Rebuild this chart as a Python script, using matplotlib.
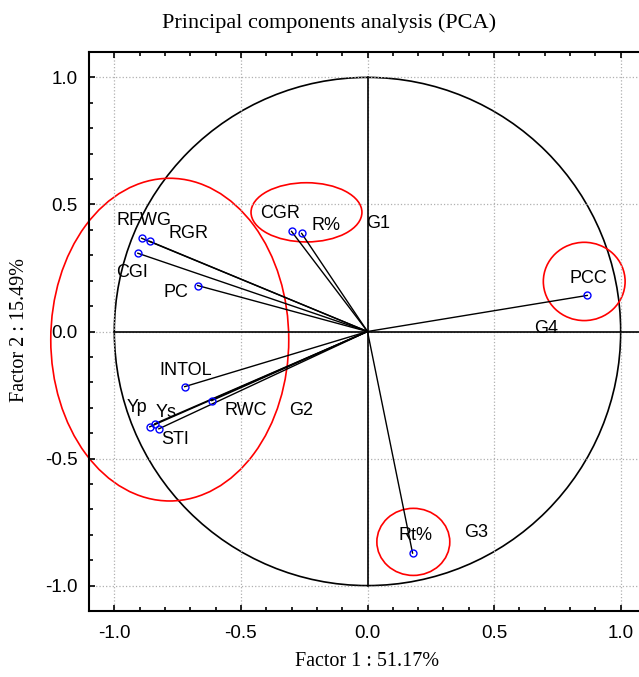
# PCA correlation circle (factor 1 vs factor 2) with grouped variables

import numpy as np
import matplotlib.pyplot as plt
from matplotlib.patches import Ellipse, Circle
from matplotlib.ticker import MultipleLocator

plt.rcParams['font.family'] = ['Liberation Sans', 'DejaVu Sans']

variables = ['RFWG', 'RGR', 'CGI', 'PC', 'INTOL', 'RWC', 'Yp', 'Ys', 'STI',
             'CGR', 'R%', 'Rt%', 'PCC']
factor1 = [-0.892, -0.860, -0.907, -0.671, -0.722, -0.615, -0.860, -0.840, -0.824,
           -0.300, -0.260, 0.178, 0.868]
factor2 = [0.367, 0.355, 0.308, 0.181, -0.217, -0.272, -0.375, -0.363, -0.383,
           0.394, 0.386, -0.872, 0.142]

groups = ['G1', 'G2', 'G3', 'G4']
group_x = [0.043, -0.264, 0.430, 0.706]
group_y = [0.426, -0.312, -0.793, 0.012]

# label offsets in pixels (dx, dy) from each point
label_off = [(2, 18), (39, 8), (-6, -19), (-22, -7), (1, 16), (34, -10), (-13, 19),
             (11, 11), (16, -11), (-11, 18), (24, 8), (3, 18), (1, 17)]

# red group outlines: center x, center y, width, height
rings = [(-0.781, -0.032, 0.94, 1.27), (-0.241, 0.469, 0.438, 0.233),
         (0.181, -0.828, 0.288, 0.264), (0.856, 0.197, 0.323, 0.308)]

fig = plt.figure(figsize=(6.39, 6.77), dpi=100)
ax = fig.add_axes([89 / 639, 66 / 677, 557 / 639, 559 / 677])
ax.set_xlim(-1.1, 1.1)
ax.set_ylim(-1.1, 1.1)

ax.xaxis.set_major_locator(MultipleLocator(0.5))
ax.yaxis.set_major_locator(MultipleLocator(0.5))
ax.xaxis.set_minor_locator(MultipleLocator(0.1))
ax.yaxis.set_minor_locator(MultipleLocator(0.1))
ax.xaxis.set_major_formatter(lambda v, p: f'{v:.1f}')
ax.yaxis.set_major_formatter(lambda v, p: f'{v:.1f}')
ax.tick_params(which='both', direction='in', top=True, right=True, width=1.2)
ax.tick_params(which='major', length=4, labelsize=13.5)
ax.tick_params(which='minor', length=3)
ax.tick_params(axis='x', pad=10)
ax.tick_params(axis='y', pad=8)
for s in ax.spines.values():
    s.set_linewidth(1.5)
ax.grid(True, which='major', linestyle=':', color='#b0b0b0', linewidth=0.9)

ax.add_patch(Circle((0, 0), 1.0, fill=False, edgecolor='black', linewidth=1.2))
ax.plot([0, 0], [-1, 1], color='black', linewidth=1.2)
ax.plot([-1, 1.1], [0, 0], color='black', linewidth=1.2)

for x, y in zip(factor1, factor2):
    ax.plot([0, x], [0, y], color='black', linewidth=1.0)

for cx, cy, w, h in rings:
    ax.add_patch(Ellipse((cx, cy), w, h, fill=False, edgecolor='red',
                         linewidth=1.2, clip_on=False))

ax.plot(factor1, factor2, 'o', markersize=5, markerfacecolor='none',
        markeredgecolor='blue', markeredgewidth=1.0)

for name, x, y, (dx, dy) in zip(variables, factor1, factor2, label_off):
    ax.annotate(name, (x, y), xytext=(dx, dy), textcoords='offset pixels',
                ha='center', va='center', fontsize=13)

for g, x, y in zip(groups, group_x, group_y):
    ax.text(x, y, g, ha='center', va='center', fontsize=13)

fig.text(329 / 639, 1 - 23 / 677, 'Principal components analysis (PCA)',
         ha='center', va='center', fontsize=16, family='Liberation Serif')
fig.text(367 / 639, 1 - 662 / 677, 'Factor 1 : 51.17%',
         ha='center', va='center', fontsize=14.5, family='Liberation Serif')
fig.text(20 / 639, 1 - 330 / 677, 'Factor 2 : 15.49%', rotation=90,
         ha='center', va='center', fontsize=14.5, family='Liberation Serif')

fig.savefig('out.png', dpi=100)
